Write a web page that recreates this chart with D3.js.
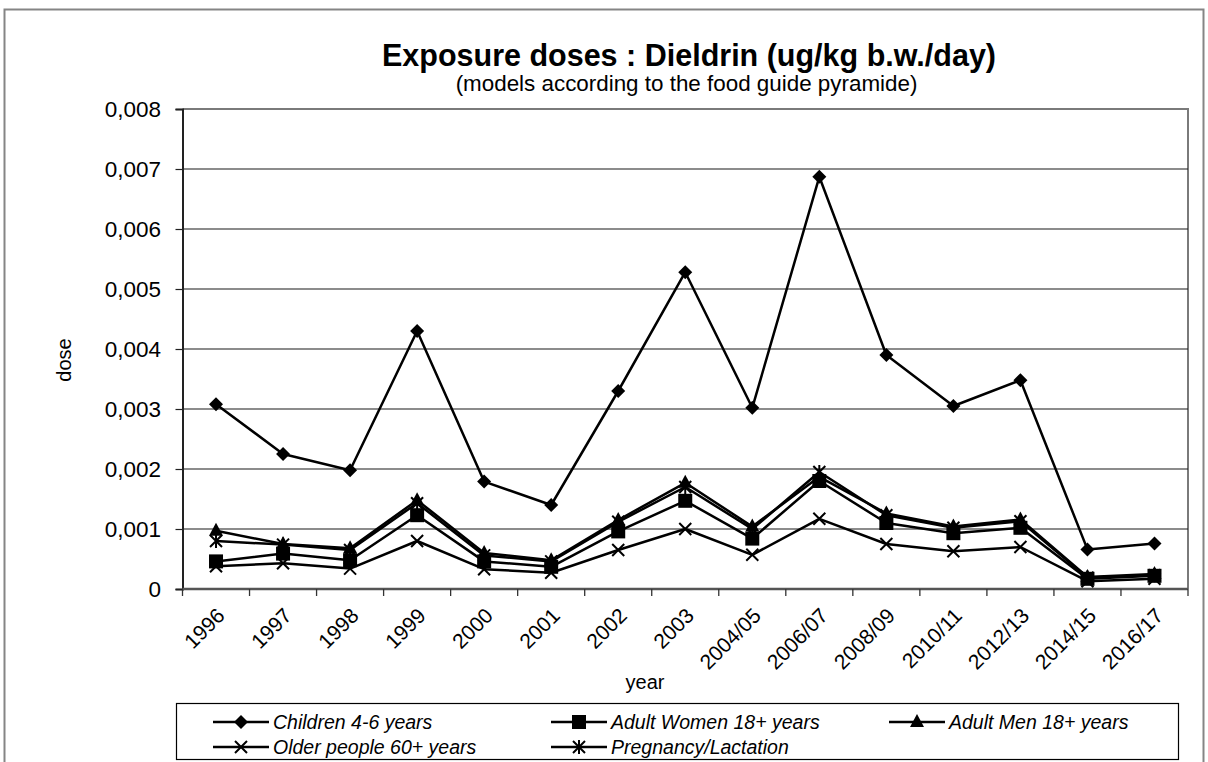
<!DOCTYPE html>
<html>
<head>
<meta charset="utf-8">
<script src="https://cdn.jsdelivr.net/npm/d3@7"></script>
<style>
  html, body { margin: 0; padding: 0; background: #fff; }
  svg { display: block; }
  text { font-family: "Liberation Sans", Arial, Helvetica, sans-serif; fill: #000; }
</style>
</head>
<body>
<svg id="chart" width="1208" height="762"></svg>
<script>
// Survey periods on the category axis
const years = ["1996", "1997", "1998", "1999", "2000", "2001", "2002", "2003",
  "2004/05", "2006/07", "2008/09", "2010/11", "2012/13", "2014/15", "2016/17"];

// Exposure doses (ug/kg b.w./day) per population group
const children = [0.00308, 0.00225, 0.00198, 0.0043, 0.00179, 0.0014, 0.0033, 0.00528,
  0.00302, 0.00687, 0.0039, 0.00305, 0.00348, 0.00066, 0.00076];
const adultWomen = [0.00046, 0.00059, 0.00048, 0.00123, 0.00046, 0.00037, 0.00096, 0.00147,
  0.00084, 0.0018, 0.0011, 0.00093, 0.00102, 0.00017, 0.00022];
const adultMen = [0.00097, 0.00075, 0.00068, 0.00148, 0.0006, 0.00048, 0.00115, 0.00177,
  0.00104, 0.00187, 0.00126, 0.00104, 0.00116, 0.0002, 0.00025];
const olderPeople = [0.00038, 0.00043, 0.00034, 0.0008, 0.00033, 0.00027, 0.00065, 0.001,
  0.00057, 0.00117, 0.00075, 0.00063, 0.0007, 0.00013, 0.00017];
const pregnancy = [0.0008, 0.00074, 0.00065, 0.00143, 0.00056, 0.00046, 0.00112, 0.0017,
  0.001, 0.00195, 0.00123, 0.00102, 0.00113, 0.00019, 0.00023];

// Value-axis ticks
const yTicks = [0, 0.001, 0.002, 0.003, 0.004, 0.005, 0.006, 0.007, 0.008];

const seriesNames = ["Children 4-6 years", "Adult Women 18+ years", "Adult Men 18+ years",
  "Older people 60+ years", "Pregnancy/Lactation"];
const seriesMarkers = ["diamond", "square", "triangle", "cross", "asterisk"];
const seriesValues = [children, adultWomen, adultMen, olderPeople, pregnancy];

const series = seriesNames.map((name, i) => ({
  name, marker: seriesMarkers[i], values: seriesValues[i]
}));

const svg = d3.select("#chart");

// Plot area
const plot = { left: 182.5, right: 1188, top: 109, bottom: 589 };

const x = d3.scaleBand().domain(years).range([plot.left, plot.right]).padding(0);
const y = d3.scaleLinear().domain([0, 0.008]).range([plot.bottom, plot.top]);
const cx = d => x(d) + x.bandwidth() / 2;

function label(g, tx, ty, str, opts = {}) {
  const t = g.append("text")
    .attr("transform", `translate(${tx},${ty})${opts.rotate ? ` rotate(${opts.rotate})` : ""}`)
    .attr("text-anchor", opts.anchor || "start")
    .style("font-size", (opts.size || 16) + "px")
    .text(str);
  if (opts.bold) t.style("font-weight", "bold");
  if (opts.italic) t.style("font-style", "italic");
  if (opts.dy) t.attr("dy", opts.dy);
  return t;
}

// Outer chart border
svg.append("rect")
  .attr("x", 4.5).attr("y", 9.5)
  .attr("width", 1199).attr("height", 770)
  .attr("fill", "#fff").attr("stroke", "#858585").attr("stroke-width", 2);

// Plot area frame (top and right)
svg.append("path")
  .attr("d", `M${plot.left},${plot.top}H${plot.right}V${plot.bottom}`)
  .attr("fill", "none").attr("stroke", "#7a7a7a").attr("stroke-width", 2);

// Horizontal gridlines
svg.append("g").selectAll("line")
  .data(yTicks.filter(v => v > 0 && v < 0.008))
  .join("line")
  .attr("x1", plot.left).attr("x2", plot.right)
  .attr("y1", d => y(d)).attr("y2", d => y(d))
  .attr("stroke", "#1a1a1a").attr("stroke-width", 1.2);

// Y axis
const yAxis = d3.axisLeft(y).tickValues(yTicks).tickSize(7).tickFormat(() => "");
const gy = svg.append("g").attr("transform", `translate(${plot.left},0)`).call(yAxis);
gy.select(".domain").attr("stroke", "#222").attr("stroke-width", 2);
gy.selectAll(".tick line").attr("stroke", "#222").attr("stroke-width", 1.2);

const yLabelFmt = v => v === 0 ? "0" : d3.format(".3f")(v).replace(".", ",");
yTicks.forEach(v => {
  label(svg, 161, y(v), yLabelFmt(v), { anchor: "end", size: 22.5, dy: "0.36em" });
});

// X axis: ticks at category boundaries
const gx = svg.append("g").attr("transform", `translate(0,${plot.bottom})`);
gx.append("line")
  .attr("x1", plot.left).attr("x2", plot.right)
  .attr("stroke", "#555").attr("stroke-width", 2.5);
const boundaries = years.map(d => x(d)).concat([plot.right]);
gx.selectAll(".tb").data(boundaries).join("line").attr("class", "tb")
  .attr("x1", d => d).attr("x2", d => d)
  .attr("y1", 0).attr("y2", 7)
  .attr("stroke", "#333").attr("stroke-width", 1.3);

// Rotated category labels
years.forEach(yr => {
  label(svg, cx(yr) + 10, plot.bottom + 28, yr, { anchor: "end", size: 21, rotate: -45 });
});

// Axis titles
label(svg, 71, 360, "dose", { anchor: "middle", size: 20, rotate: -90 });
label(svg, 645, 689, "year", { anchor: "middle", size: 20 });

// Chart title
label(svg, 689, 66, "Exposure doses : Dieldrin (ug/kg b.w./day)", { anchor: "middle", size: 30.5, bold: true });
label(svg, 686.5, 91, "(models according to the food guide pyramide)", { anchor: "middle", size: 22.4 });

// Marker drawing
function drawMarker(g, type, px, py) {
  switch (type) {
    case "diamond":
      g.append("path").attr("d", `M${px},${py - 7}L${px + 7},${py}L${px},${py + 7}L${px - 7},${py}Z`)
        .attr("fill", "#000");
      break;
    case "square":
      g.append("rect").attr("x", px - 7).attr("y", py - 7).attr("width", 14).attr("height", 14)
        .attr("fill", "#000");
      break;
    case "triangle":
      g.append("path").attr("d", `M${px},${py - 8}L${px + 7},${py + 5}L${px - 7},${py + 5}Z`)
        .attr("fill", "#000");
      break;
    case "cross":
      g.append("path").attr("d", `M${px - 6},${py - 6}L${px + 6},${py + 6}M${px - 6},${py + 6}L${px + 6},${py - 6}`)
        .attr("stroke", "#000").attr("stroke-width", 2).attr("fill", "none");
      break;
    case "asterisk":
      g.append("path").attr("d", `M${px - 6},${py - 6}L${px + 6},${py + 6}M${px - 6},${py + 6}L${px + 6},${py - 6}M${px},${py - 7}V${py + 7}`)
        .attr("stroke", "#000").attr("stroke-width", 2).attr("fill", "none");
      break;
  }
}

// Series lines and markers
const line = d3.line().x((d, i) => cx(years[i])).y(d => y(d));
const gs = svg.append("g");
series.forEach(s => {
  gs.append("path").datum(s.values)
    .attr("d", line)
    .attr("fill", "none").attr("stroke", "#000").attr("stroke-width", 2.5)
    .attr("stroke-linejoin", "round");
});
series.forEach(s => {
  const gm = gs.append("g");
  s.values.forEach((v, i) => drawMarker(gm, s.marker, cx(years[i]), y(v)));
});

// Legend
const legend = svg.append("g");
legend.append("rect")
  .attr("x", 176.5).attr("y", 703.5).attr("width", 1002).attr("height", 56)
  .attr("fill", "#fff").attr("stroke", "#000").attr("stroke-width", 1.2);
const colLine = [213, 551, 889];
const rowY = [722, 747];
series.forEach((s, i) => {
  const col = i < 3 ? i : i - 3;
  const row = i < 3 ? 0 : 1;
  const lx = colLine[col], ly = rowY[row];
  legend.append("line")
    .attr("x1", lx).attr("x2", lx + 56).attr("y1", ly).attr("y2", ly)
    .attr("stroke", "#000").attr("stroke-width", 2.5);
  drawMarker(legend, s.marker, lx + 28, ly);
  label(legend, lx + 60, ly, s.name, { size: 19.5, italic: true, dy: "0.36em" });
});
</script>
</body>
</html>
